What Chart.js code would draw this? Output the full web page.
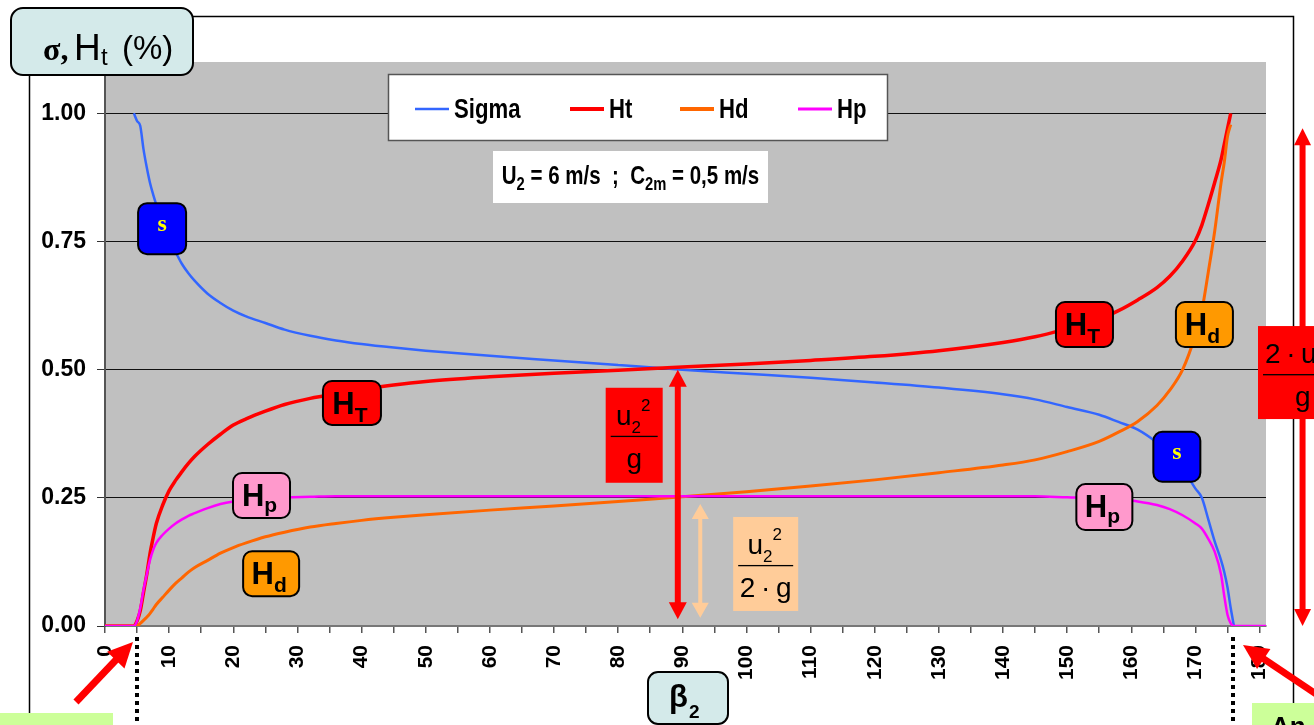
<!DOCTYPE html>
<html>
<head>
<meta charset="utf-8">
<script src="https://cdn.jsdelivr.net/npm/chart.js@4.4.1/dist/chart.umd.min.js"></script>
<style>
html,body{margin:0;padding:0;background:#fff;overflow:hidden;}
#wrap{width:1314px;height:725px;}
</style>
</head>
<body>
<div id="wrap"><canvas id="c" width="1314" height="725"></canvas></div>
<script>
(function(){
'use strict';

// beta2 (deg) and the four curves
var BETA  = [0, 4.5, 5, 5.5, 6, 6.5, 7, 7.5, 8, 9, 10, 11, 12, 13, 14, 16, 18, 20, 22, 25, 28, 32, 36, 40, 45, 50,
             60, 70, 80, 90, 100, 110, 120, 130, 140, 145, 150, 155, 158, 161, 164, 166, 168, 170, 171, 172, 173, 174,
             174.5, 175, 175.5, 176, 178, 181];
var SIGMA = [null, 1.0, 0.985, 0.975, 0.93, 0.895, 0.865, 0.842, 0.822, 0.79, 0.758, 0.73, 0.706, 0.688, 0.673, 0.648,
             0.63, 0.615, 0.604, 0.591, 0.578, 0.566, 0.557, 0.55, 0.543, 0.537,
             0.527, 0.518, 0.509, 0.5, 0.492, 0.484, 0.475, 0.465, 0.452, 0.442, 0.427, 0.412, 0.398, 0.383, 0.358,
             0.337, 0.307, 0.268, 0.25, 0.208, 0.165, 0.128, 0.105, 0.075, 0.035, 0.0, null, null];
var HT    = [0, 0, 0.01, 0.03, 0.065, 0.1, 0.14, 0.172, 0.2, 0.236, 0.264, 0.284, 0.301, 0.317, 0.331, 0.354,
             0.374, 0.392, 0.404, 0.419, 0.432, 0.444, 0.453, 0.461, 0.47, 0.477,
             0.486, 0.493, 0.499, 0.505, 0.511, 0.518, 0.526, 0.537, 0.553, 0.564, 0.58, 0.598, 0.615, 0.636, 0.66,
             0.682, 0.712, 0.752, 0.782, 0.822, 0.865, 0.91, 0.94, 0.97, 1.0, null, null, null];
var HD    = [0, 0, 0, 0.005, 0.011, 0.017, 0.024, 0.033, 0.042, 0.056, 0.07, 0.083, 0.094, 0.105, 0.114, 0.128,
             0.142, 0.153, 0.162, 0.174, 0.183, 0.193, 0.2, 0.206, 0.212, 0.217,
             0.226, 0.234, 0.243, 0.252, 0.262, 0.273, 0.285, 0.299, 0.314, 0.324, 0.34, 0.36, 0.378, 0.399, 0.43,
             0.46, 0.5, 0.568, 0.615, 0.69, 0.77, 0.865, 0.905, 0.955, 0.978, null, null, null];
var HP    = [0, 0, 0.01, 0.035, 0.07, 0.1, 0.128, 0.148, 0.162, 0.178, 0.19, 0.2, 0.208, 0.215, 0.22, 0.23,
             0.238, 0.243, 0.246, 0.249, 0.251, 0.252, 0.253, 0.253, 0.253, 0.253,
             0.253, 0.253, 0.253, 0.253, 0.253, 0.253, 0.253, 0.253, 0.253, 0.253, 0.251, 0.249, 0.247, 0.243, 0.236,
             0.228, 0.216, 0.2, 0.19, 0.17, 0.145, 0.1, 0.058, 0.022, 0.005, 0, 0, 0];

var NAMEN  = ['Sigma', 'Ht', 'Hd', 'Hp'];
var FARBEN = ['#3366ff', '#ff0000', '#ff6600', '#ff00ff'];

var SANS = '"Liberation Sans", Arial, sans-serif';
var SQ = 1, NARROW = '"Liberation Sans Narrow", "Arial Narrow", sans-serif';

function nf(w, px){ return w + ' ' + px + 'px ' + NARROW; }

function hatFont(ctx, fam){
  var probe = 'Sigma Ht Hd mmmiii';
  ctx.font = 'bold 20px ' + fam + ', monospace';
  var a = ctx.measureText(probe).width;
  ctx.font = 'bold 20px monospace';
  var b = ctx.measureText(probe).width;
  return Math.abs(a - b) > 0.5;
}

function pruefeNarrow(ctx){
  ctx.save();
  if (hatFont(ctx, '"Liberation Sans Narrow"')) { NARROW = '"Liberation Sans Narrow", sans-serif'; SQ = 1; }
  else if (hatFont(ctx, '"Arial Narrow"')) { NARROW = '"Arial Narrow", sans-serif'; SQ = 1; }
  else { NARROW = SANS; SQ = 0.82; }
  ctx.restore();
}

function rich(ctx, x, y, parts, sq){
  sq = sq || 1;
  parts.forEach(function(p){
    ctx.font = p.f;
    var w = ctx.measureText(p.t).width;
    ctx.save();
    ctx.translate(x, y + (p.dy||0));
    ctx.scale(sq, 1);
    ctx.fillText(p.t, 0, 0);
    ctx.restore();
    x += w*sq;
  });
  return x;
}
function richW(ctx, parts, sq){
  sq = sq || 1;
  var w = 0;
  parts.forEach(function(p){ ctx.font = p.f; w += ctx.measureText(p.t).width*sq; });
  return w;
}

function rbox(ctx, x, y, w, h, r, fill, stroke, lw){
  ctx.beginPath();
  ctx.roundRect(x, y, w, h, r);
  ctx.fillStyle = fill; ctx.fill();
  if (stroke) { ctx.lineWidth = lw || 2; ctx.strokeStyle = stroke; ctx.stroke(); }
}

function arrow(ctx, x1, y1, x2, y2, o){
  var dx = x2-x1, dy = y2-y1, L = Math.hypot(dx, dy), ux = dx/L, uy = dy/L, px = -uy, py = ux;
  ctx.strokeStyle = o.color; ctx.fillStyle = o.color; ctx.lineWidth = o.shaft; ctx.lineCap = 'butt';
  var s = o.both ? o.head*0.8 : 0;
  ctx.beginPath();
  ctx.moveTo(x1 + ux*s, y1 + uy*s);
  ctx.lineTo(x2 - ux*o.head*0.8, y2 - uy*o.head*0.8);
  ctx.stroke();
  function spitze(tx, ty, vx, vy){
    var bx = tx - vx*o.head, by = ty - vy*o.head;
    ctx.beginPath();
    ctx.moveTo(tx, ty);
    ctx.lineTo(bx + px*o.w/2, by + py*o.w/2);
    ctx.lineTo(bx - px*o.w/2, by - py*o.w/2);
    ctx.closePath(); ctx.fill();
  }
  spitze(x2, y2, ux, uy);
  if (o.both) spitze(x1, y1, -ux, -uy);
}

// boxes on the curves: [beta, value] of the centre
var MARKEN = [
  {b: 8.9,   v: 0.775, w: 48, h: 51, fill: '#0000ff', typ: 's'},
  {b: 167.1, v: 0.33,  w: 47, h: 50, fill: '#0000ff', typ: 's'},
  {b: 38.5,  v: 0.435, w: 58, h: 44, fill: '#ff0000', typ: 'T'},
  {b: 152.7, v: 0.588, w: 57, h: 45, fill: '#ff0000', typ: 'T'},
  {b: 25.9,  v: 0.102, w: 56, h: 45, fill: '#ff9900', typ: 'd'},
  {b: 171.4, v: 0.588, w: 57, h: 45, fill: '#ff9900', typ: 'd'},
  {b: 24.4,  v: 0.2545,w: 57, h: 45, fill: '#ff99cc', typ: 'p'},
  {b: 155.8, v: 0.232, w: 56, h: 46, fill: '#ff99cc', typ: 'p'}
];

var DOT = '\u2009\u00B7\u2009';

function bruch(ctx, L, T, W, H, fill, zaehler, nenner){
  ctx.fillStyle = fill;
  ctx.fillRect(L, T, W, H);
  ctx.fillStyle = '#000';
  ctx.textAlign = 'left'; ctx.textBaseline = 'alphabetic';
  var zw = richW(ctx, zaehler);
  rich(ctx, L + W/2 - zw/2 - 1, T + 37, zaehler);
  ctx.fillRect(L + 5, T + 48, W - 10, 1.3);
  var nw = richW(ctx, nenner);
  rich(ctx, L + W/2 - nw/2, T + 80, nenner);
}

var deko = {
  id: 'deko',
  beforeDraw: function(chart){
    var ctx = chart.ctx, a = chart.chartArea;
    ctx.save();
    ctx.fillStyle = '#fff';
    ctx.fillRect(0, 0, chart.width, chart.height);
    ctx.strokeStyle = '#000'; ctx.lineWidth = 1.5;
    ctx.beginPath();
    ctx.moveTo(29.5, 725); ctx.lineTo(29.5, 16.5); ctx.lineTo(1293.5, 16.5); ctx.lineTo(1293.5, 725);
    ctx.stroke();
    ctx.fillStyle = '#c0c0c0';
    ctx.fillRect(a.left, a.top, a.right - a.left, a.bottom - a.top);
    ctx.restore();
  },
  afterDatasetsDraw: function(chart){
    var ctx = chart.ctx, xs = chart.scales.x, ys = chart.scales.y;
    var X = function(b){ return xs.getPixelForValue(b); };
    var Y = function(v){ return ys.getPixelForValue(v); };
    ctx.save();
    ctx.textAlign = 'left'; ctx.textBaseline = 'alphabetic';

    // legend
    ctx.fillStyle = '#fff'; ctx.fillRect(388, 74, 500, 67);
    ctx.strokeStyle = '#555'; ctx.lineWidth = 1.5; ctx.strokeRect(388.5, 74.5, 499, 66);
    var legX = [415, 570, 680, 798], legLw = [2.5, 4, 4, 3];
    NAMEN.forEach(function(n, i){
      ctx.strokeStyle = FARBEN[i]; ctx.lineWidth = legLw[i];
      ctx.beginPath(); ctx.moveTo(legX[i], 109); ctx.lineTo(legX[i] + 34, 109); ctx.stroke();
      ctx.fillStyle = '#000';
      rich(ctx, legX[i] + 39, 118, [{t: n, f: nf('bold', 27)}], SQ);
    });

    // U2 / C2m box
    ctx.fillStyle = '#fff'; ctx.fillRect(493, 151, 275, 52);
    ctx.fillStyle = '#000';
    var F = nf('bold', 25), S = nf('bold', 18);
    var uParts = [{t: 'U', f: F}, {t: '2', f: S, dy: 6}, {t: ' = 6 m/s  ;  C', f: F}, {t: '2m', f: S, dy: 6}, {t: ' = 0,5 m/s', f: F}];
    var uw = richW(ctx, uParts, SQ);
    rich(ctx, 630.5 - uw/2, 184, uParts, SQ);

    // double arrows
    arrow(ctx, X(89.3), Y(0.5), X(89.3), Y(0.013), {color: '#ff0000', shaft: 6, head: 17, w: 18, both: true});
    arrow(ctx, X(92.8), Y(0.238), X(92.8), Y(0.016), {color: '#ffcc99', shaft: 4, head: 15, w: 17, both: true});
    arrow(ctx, X(186.7), Y(0.971), X(186.7), Y(0), {color: '#ff0000', shaft: 6, head: 17, w: 17, both: true});

    // fractions
    var R = '28px ' + SANS, K = '17px ' + SANS;
    var u22 = [{t: 'u', f: R}, {t: '2', f: K, dy: 8}, {t: '2', f: K, dy: -14}];
    bruch(ctx, X(82.5) - 28.5, Y(0.372) - 47.5, 57, 95, '#ff0000', u22, [{t: 'g', f: R}]);
    bruch(ctx, X(103) - 32.5, Y(0.121) - 47, 65, 94, '#ffcc99', u22, [{t: '2' + DOT + 'g', f: R}]);
    var rT = Y(0.585);
    ctx.fillStyle = '#ff0000'; ctx.fillRect(1258, rT, 90, 93);
    ctx.fillStyle = '#000';
    rich(ctx, 1265, rT + 37, [{t: '2' + DOT + 'u', f: R}, {t: '2', f: K, dy: 8}, {t: '2', f: K, dy: -14}]);
    ctx.fillRect(1263, rT + 48, 80, 1.3);
    rich(ctx, 1295, rT + 80, [{t: 'g', f: R}]);

    // boxes on the curves
    MARKEN.forEach(function(m){
      var cx = X(m.b), cy = Y(m.v), l = cx - m.w/2, t = cy - m.h/2;
      rbox(ctx, l, t, m.w, m.h, 9, m.fill, '#000', 2);
      var parts, col = '#000', base = t + 33;
      if (m.typ === 's') {
        parts = [{t: 's', f: 'bold 24px "Liberation Serif", serif'}];
        col = '#ffff00'; base = cy + 2;
      } else {
        parts = [{t: 'H', f: 'bold 31px ' + SANS}, {t: m.typ, f: 'bold 21px ' + SANS, dy: m.typ === 'p' ? 6 : 8}];
      }
      ctx.fillStyle = col;
      var w = richW(ctx, parts);
      rich(ctx, cx - w/2 + (m.typ === 's' ? 0 : -2), base, parts);
    });

    ctx.restore();
  },
  afterDraw: function(chart){
    var ctx = chart.ctx, xs = chart.scales.x;
    ctx.save();
    ctx.textAlign = 'left'; ctx.textBaseline = 'alphabetic';

    // dotted limits
    ctx.strokeStyle = '#000'; ctx.lineWidth = 4; ctx.setLineDash([4, 4]);
    [5, 175.8].forEach(function(b){
      var x = Math.round(xs.getPixelForValue(b));
      ctx.beginPath(); ctx.moveTo(x, 637); ctx.lineTo(x, 725); ctx.stroke();
    });
    ctx.setLineDash([]);

    // red pointers
    arrow(ctx, 76, 702, 133, 642, {color: '#ff0000', shaft: 7, head: 25, w: 24});
    arrow(ctx, 1322, 698, 1243, 645, {color: '#ff0000', shaft: 7, head: 25, w: 24});

    // green notes at the bottom
    ctx.fillStyle = '#ccff99';
    ctx.fillRect(0, 713, 113, 12);
    ctx.fillRect(1252, 703, 62, 22);
    ctx.fillStyle = '#000';
    ctx.font = 'bold 26px ' + SANS;
    ctx.fillText('An', 1271, 735);

    // axis title boxes
    rbox(ctx, 11, 8, 182, 67, 12, '#d4eaea', '#000', 2);
    ctx.fillStyle = '#000';
    ctx.font = 'bold 32px "Liberation Serif", serif'; ctx.fillText('\u03C3,', 43, 60);
    ctx.font = '37px ' + SANS; ctx.fillText('H', 74, 60);
    ctx.font = '24px ' + SANS; ctx.fillText('t', 101, 65);
    ctx.font = '33px ' + SANS; ctx.fillText('(%)', 122, 59);

    rbox(ctx, 648, 672, 80, 52, 10, '#d4eaea', '#000', 2);
    ctx.fillStyle = '#000';
    ctx.font = 'bold 31px ' + SANS; ctx.fillText('\u03B2', 669, 707);
    ctx.font = 'bold 19px ' + SANS; ctx.fillText('2', 689, 718);

    ctx.restore();
  }
};

function linie(i, dicke, ord){
  var werte = [SIGMA, HT, HD, HP][i];
  return {
    label: NAMEN[i],
    data: BETA.map(function(b, k){ return {x: b, y: werte[k]}; }),
    borderColor: FARBEN[i],
    backgroundColor: FARBEN[i],
    borderWidth: dicke,
    pointRadius: 0,
    fill: false,
    spanGaps: false,
    cubicInterpolationMode: 'monotone',
    order: ord
  };
}

var canvas = document.getElementById('c');
var ctx = canvas.getContext('2d');
pruefeNarrow(ctx);

new Chart(ctx, {
  type: 'line',
  data: {datasets: [linie(0, 2.5, 4), linie(1, 3.5, 3), linie(2, 3, 2), linie(3, 2.5, 1)]},
  options: {
    responsive: false,
    devicePixelRatio: 1,
    animation: false,
    events: [],
    layout: {padding: {top: 62, right: 48, bottom: 0, left: 0}},
    plugins: {legend: {display: false}, tooltip: {enabled: false}},
    scales: {
      x: {
        type: 'linear', min: 0, max: 181,
        afterFit: function(s){ s.height = 99; },
        ticks: {
          stepSize: 5, includeBounds: false, autoSkip: false, minRotation: 90, maxRotation: 90, padding: 12,
          color: '#000', font: {family: SANS, size: 21, weight: 'bold'},
          callback: function(v){ return v % 10 === 0 ? String(v) : ''; }
        },
        grid: {drawOnChartArea: false, drawTicks: true, tickLength: 7, color: '#555', lineWidth: 1.5},
        border: {color: '#777', width: 2}
      },
      y: {
        min: 0, max: 1.1,
        afterFit: function(s){ s.width = 105; },
        ticks: {
          stepSize: 0.25, includeBounds: false, padding: 11,
          color: '#000', font: {family: NARROW, size: 23, weight: 'bold'},
          callback: function(v){ return v.toFixed(2); }
        },
        grid: {
          color: function(c){ return c.tick && c.tick.value === 0 ? 'rgba(0,0,0,0)' : '#111'; },
          tickColor: '#333', tickLength: 8, lineWidth: 1
        },
        border: {color: '#555', width: 2}
      }
    }
  },
  plugins: [deko]
});

})();
</script>
</body>
</html>
